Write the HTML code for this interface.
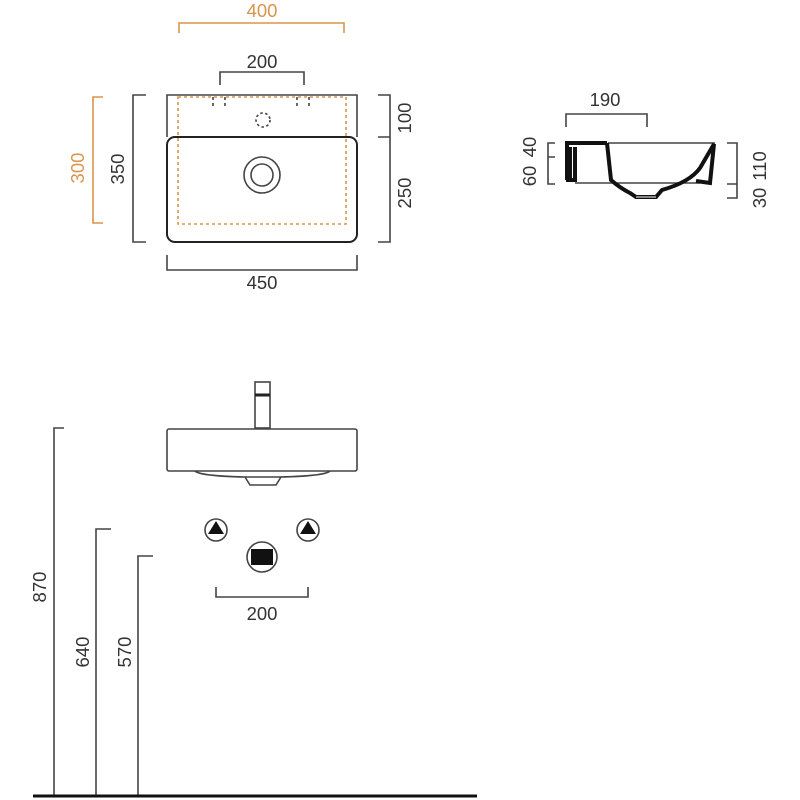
<!DOCTYPE html>
<html><head><meta charset="utf-8"><style>html,body{margin:0;padding:0;background:#fff}svg{display:block}text{font-family:"Liberation Sans",sans-serif;font-size:18.5px;fill:#333}</style></head><body>
<svg width="800" height="800" viewBox="0 0 800 800" xmlns="http://www.w3.org/2000/svg">
<g fill="none" stroke="#444" stroke-width="1.6">
<path d="M179 33V23H344V33" stroke="#d9954a"/>
<path d="M220 85V72H304V85"/>
<path d="M167 137V95H357V137"/>
<rect x="167" y="137" width="190" height="105" rx="8" stroke="#222" stroke-width="2"/>
<rect x="178" y="97" width="168" height="127" stroke="#d9954a" stroke-dasharray="3,3"/>
<path d="M213 97V107M225 97V107M297 97V107M309 97V107" stroke-dasharray="3,3"/>
<circle cx="263" cy="120" r="7" stroke-dasharray="2.5,2.5"/>
<circle cx="262" cy="175" r="18"/><circle cx="262" cy="175" r="11"/>
<path d="M146 95H133V242H146"/>
<path d="M103 97H93V223H103" stroke="#d9954a"/>
<path d="M378 95H390V242H378M378 137H390"/>
<path d="M167 255V270H357V255"/>
<path d="M566 127V114H647V127"/>
<path d="M555 143H548V184H555M548 157H555"/>
<path d="M727 143H737V198H727M727 184H737"/>
<path d="M608 143H715M575 183H700"/>
<path d="M567 180V143H607M570 178V147M575 147V180H566" stroke="#111" stroke-width="4"/>
<path d="M607 143L611 180Q620 188 630 193L636 197H656L662 190Q690 182 700 168L714 144L710 183L696 181" stroke="#111" stroke-width="4"/>
<path d="M636 197H656" stroke="#888" stroke-width="2"/>
<rect x="255" y="382" width="15" height="46"/>
<path d="M255 395H270" stroke="#222" stroke-width="3"/>
<rect x="167" y="429" width="190" height="42" rx="2"/>
<path d="M195 471Q200 476 245 477H280Q325 476 330 471"/>
<path d="M245 477L250 485H276L281 477"/>
<circle cx="216" cy="530" r="11"/><circle cx="308" cy="530" r="11"/>
<circle cx="262" cy="557" r="15"/>
<path d="M216 587V597H308V587"/>
<path d="M54 796V428H64M96 796V529H111M138 796V556H153"/>
<path d="M33 796H477" stroke="#111" stroke-width="3"/>
</g>
<g fill="#111">
<path d="M216 521L224 534H208Z"/><path d="M308 521L316 534H300Z"/>
<rect x="251" y="549" width="22" height="16"/>
</g>
<text x="262" y="17" text-anchor="middle" style="fill:#d9954a">400</text>
<text x="262" y="68" text-anchor="middle">200</text>
<text x="262" y="289" text-anchor="middle">450</text>
<text transform="translate(124,169) rotate(-90)" text-anchor="middle">350</text>
<text transform="translate(84,168) rotate(-90)" text-anchor="middle" style="fill:#d9954a">300</text>
<text transform="translate(411,118) rotate(-90)" text-anchor="middle">100</text>
<text transform="translate(411,193) rotate(-90)" text-anchor="middle">250</text>
<text x="605" y="106" text-anchor="middle">190</text>
<text transform="translate(536,147) rotate(-90)" text-anchor="middle">40</text>
<text transform="translate(536,176) rotate(-90)" text-anchor="middle">60</text>
<text transform="translate(766,166) rotate(-90)" text-anchor="middle">110</text>
<text transform="translate(766,198) rotate(-90)" text-anchor="middle">30</text>
<text x="262" y="620" text-anchor="middle">200</text>
<text transform="translate(46,587) rotate(-90)" text-anchor="middle">870</text>
<text transform="translate(89,652) rotate(-90)" text-anchor="middle">640</text>
<text transform="translate(131,652) rotate(-90)" text-anchor="middle">570</text>
</svg>
</body></html>
